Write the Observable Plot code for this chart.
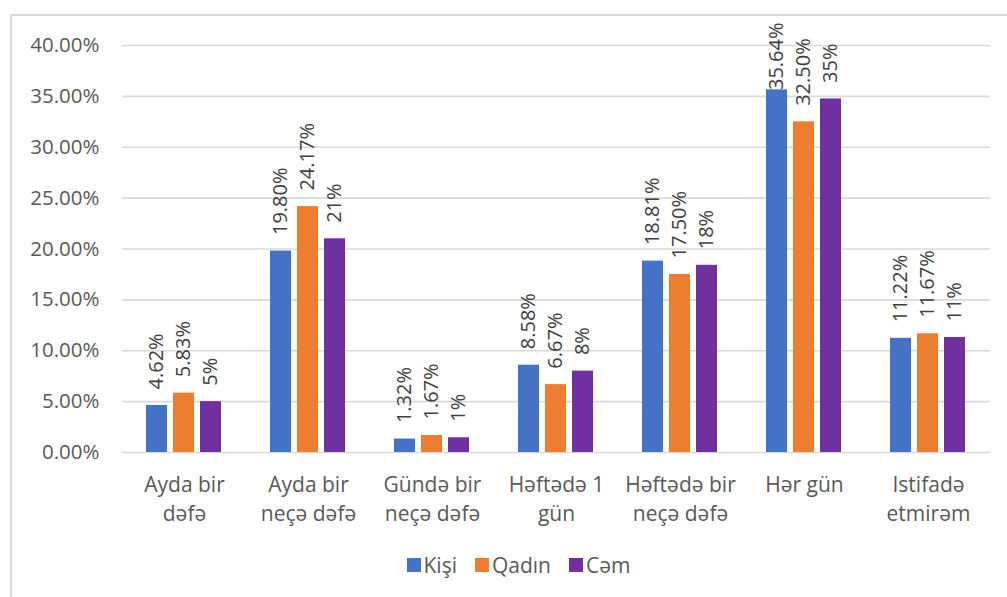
<!DOCTYPE html>
<html>
<head>
<meta charset="utf-8">
<script src="https://cdn.jsdelivr.net/npm/d3@7"></script>
<script src="https://cdn.jsdelivr.net/npm/@observablehq/plot@0.6"></script>
<style>
  html, body { margin: 0; padding: 0; background: #fff; overflow: hidden; }
  #wrap { position: relative; width: 1007px; height: 597px; font-family: "Open Sans", sans-serif; }
  #frame { position: absolute; left: 10px; top: 14px; width: 1010px; height: 600px;
           border: 2px solid #d9d9d9; box-sizing: border-box; }
  #chart { position: absolute; left: 0; top: 0; }
  #legend { position: absolute; left: 0; width: 1007px; top: 551px; display: flex;
            justify-content: center; padding-left: 30px; box-sizing: border-box;
            font-size: 21px; color: #595959; }
  #legend .item { display: flex; align-items: center; margin: 0 9px; }
  #legend .sw { width: 14px; height: 14px; margin-right: 3px; }
</style>
</head>
<body>
<div id="wrap">
  <div id="frame"></div>
  <div id="chart"></div>
  <div id="legend"></div>
</div>
<script>
// Usage frequency by group, in percent
const categories = [
  "Ayda bir\ndəfə",
  "Ayda bir\nneçə dəfə",
  "Gündə bir\nneçə dəfə",
  "Həftədə 1\ngün",
  "Həftədə bir\nneçə dəfə",
  "Hər gün",
  "Istifadə\netmirəm"
];
const series = ["Kişi", "Qadın", "Cəm"];
const colors = ["#4472C4", "#ED7D31", "#7030A0"];

const kisi  = [4.62, 19.80, 1.32, 8.58, 18.81, 35.64, 11.22];
const qadin = [5.83, 24.17, 1.67, 6.67, 17.50, 32.50, 11.67];
const cem   = [5.0, 21.0, 1.45, 8.0, 18.4, 34.75, 11.3];

// Kişi and Qadın are labelled with two decimals, Cəm with whole percents
const decimals = [2, 2, 0];
const yTicks = [0, 5, 10, 15, 20, 25, 30, 35, 40];

const rows = [];
[kisi, qadin, cem].forEach((vals, s) => {
  vals.forEach((v, i) => {
    rows.push({category: categories[i], series: series[s], value: v,
               label: v.toFixed(decimals[s]) + "%"});
  });
});

const FONT = "20px 'Open Sans'";
const ctx = document.createElement("canvas").getContext("2d");
ctx.font = FONT;

// Plot geometry
const marginTop = 45, plotBottom = 452, height = 540;
const pxPerUnit = (plotBottom - marginTop) / 40;
const labelGap = 16;          // space between bar top and its label
const headroom = 23;          // room above the top gridline for labels

// Labels that would run past the top of the chart are pulled down to fit
function labelAnchor(d) {
  const len = ctx.measureText(d.label).width;
  const maxVal = 40 + (headroom - len - labelGap) / pxPerUnit;
  return Math.min(d.value, maxVal);
}

const chart = Plot.plot({
  width: 1007,
  height,
  marginTop,
  marginLeft: 121,
  marginRight: 17,
  marginBottom: height - plotBottom,
  style: {fontFamily: "'Open Sans', sans-serif", fontSize: "20px", color: "#595959", background: "transparent"},
  fx: {domain: categories, padding: 0, label: null, axis: null},
  x: {domain: series, axis: null, paddingInner: 0.205, paddingOuter: 0.87},
  y: {domain: [0, 40], axis: null},
  color: {domain: series, range: colors},
  marks: [
    Plot.ruleY(yTicks, {stroke: "#d9d9d9", strokeWidth: 1.6}),
    Plot.axisY({ticks: yTicks, tickSize: 0, tickPadding: 23, tickFormat: d => d.toFixed(2) + "%",
                fill: "#595959", fontSize: 20.5, label: null}),
    Plot.barY(rows, {fx: "category", x: "series", y: "value", fill: "series"}),
    Plot.text(rows, {
      fx: "category", x: "series", y: labelAnchor, text: "label",
      rotate: -90, textAnchor: "start", lineAnchor: "middle",
      dy: -labelGap, fill: "#404040", fontSize: 20
    }),
    Plot.axisFx({anchor: "bottom", tickSize: 0, tickPadding: 18, lineHeight: 1.42, fill: "#595959",
                 fontSize: 21, label: null})
  ]
});
document.getElementById("chart").appendChild(chart);

// Legend below the plot
const legend = document.getElementById("legend");
series.forEach((s, i) => {
  const item = document.createElement("div");
  item.className = "item";
  const sw = document.createElement("span");
  sw.className = "sw";
  sw.style.background = colors[i];
  const t = document.createElement("span");
  t.textContent = s;
  item.appendChild(sw);
  item.appendChild(t);
  legend.appendChild(item);
});
</script>
</body>
</html>
